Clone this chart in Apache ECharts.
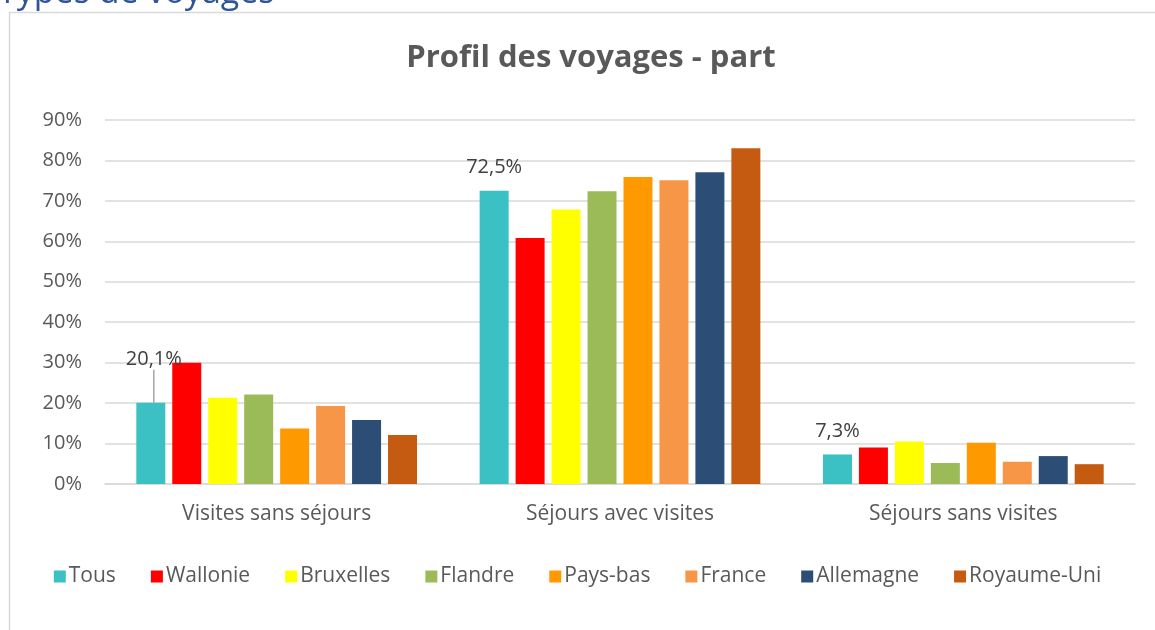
<!DOCTYPE html>
<html>
<head>
<meta charset="utf-8">
<script src="https://cdn.jsdelivr.net/npm/echarts@6/dist/echarts.min.js"></script>
<style>
  html, body { margin: 0; padding: 0; background: #fff; }
  #chart { width: 1155px; height: 630px; }
</style>
</head>
<body>
<div id="chart"></div>
<script>
// categories et séries (valeurs en %)
var categories = ['Visites sans séjours', 'Séjours avec visites', 'Séjours sans visites'];
var seriesNames = ['Tous', 'Wallonie', 'Bruxelles', 'Flandre', 'Pays-bas', 'France', 'Allemagne', 'Royaume-Uni'];
var colors = ['#3BC0C3', '#FF0000', '#FFFF00', '#9BBB59', '#FF9900', '#F79646', '#2C4D75', '#C55A11'];

var tous       = [20.1, 72.5, 7.3];
var wallonie   = [30.0, 60.8, 9.0];
var bruxelles  = [21.3, 67.9, 10.5];
var flandre    = [22.1, 72.4, 5.2];
var paysBas    = [13.7, 75.9, 10.2];
var france     = [19.3, 75.1, 5.5];
var allemagne  = [15.8, 77.1, 6.9];
var royaumeUni = [12.1, 83.0, 4.9];

var values = [tous, wallonie, bruxelles, flandre, paysBas, france, allemagne, royaumeUni];
var yTicks = { min: 0, max: 90, interval: 10 };

var chart = echarts.init(document.getElementById('chart'));

var series = seriesNames.map(function (name, i) {
  var s = {
    name: name,
    type: 'bar',
    data: values[i],
    barWidth: 29,
    barGap: '24%',
    itemStyle: { color: colors[i] }
  };
  if (i === 0) {
    // étiquettes uniquement sur "Tous", trait de rappel seulement sur la première
    s.data = values[i].map(function (v, k) {
      return { value: v, labelLine: { show: k === 0 } };
    });
    s.label = {
      show: true,
      position: 'top',
      distance: 13,
      color: '#404040',
      fontFamily: 'Open Sans',
      fontSize: 20,
      formatter: function (p) { return p.value.toFixed(1).replace('.', ',') + '%'; }
    };
    s.labelLine = { show: false, lineStyle: { color: '#a6a6a6', width: 1.5 } };
    s.labelLayout = function (p) {
      if (p.dataIndex === 0) return { dx: 3, dy: -20 };
      return {};
    };
  }
  return s;
});

chart.setOption({
  animation: false,
  color: colors,
  title: {
    text: 'Profil des voyages - part',
    left: 586,
    top: 38,
    textAlign: 'center',
    textStyle: { color: '#595959', fontSize: 31, fontWeight: 'bold', fontFamily: 'Open Sans' }
  },
  graphic: [
    {
      type: 'rect',
      shape: { x: 9.5, y: 12.5, width: 1170, height: 640 },
      style: { fill: 'none', stroke: '#d9d9d9', lineWidth: 1.5 },
      silent: true
    },
    {
      type: 'text',
      x: -2,
      y: -24,
      style: { text: 'Types de voyages', fill: '#2F5597', fontSize: 34, fontFamily: 'Open Sans' },
      silent: true
    }
  ],
  legend: {
    data: seriesNames,
    left: 'center',
    top: 561,
    itemWidth: 12,
    itemHeight: 12,
    itemGap: 35,
    icon: 'rect',
    textStyle: { color: '#595959', fontSize: 21, fontFamily: 'Open Sans', padding: [0, 0, 0, -2] }
  },
  grid: { left: 105, right: 20, top: 120, height: 364 },
  xAxis: {
    type: 'category',
    data: categories,
    axisLine: { lineStyle: { color: '#d9d9d9', width: 1.5 } },
    axisTick: { show: false },
    axisLabel: { color: '#595959', fontSize: 21, fontFamily: 'Open Sans', margin: 20 }
  },
  yAxis: {
    type: 'value',
    min: yTicks.min,
    max: yTicks.max,
    interval: yTicks.interval,
    axisLine: { show: false },
    axisTick: { show: false },
    splitLine: { lineStyle: { color: '#d9d9d9', width: 1.5 } },
    axisLabel: { color: '#595959', fontSize: 20, fontFamily: 'Open Sans', margin: 23, formatter: '{value}%' }
  },
  series: series
});
</script>
</body>
</html>
